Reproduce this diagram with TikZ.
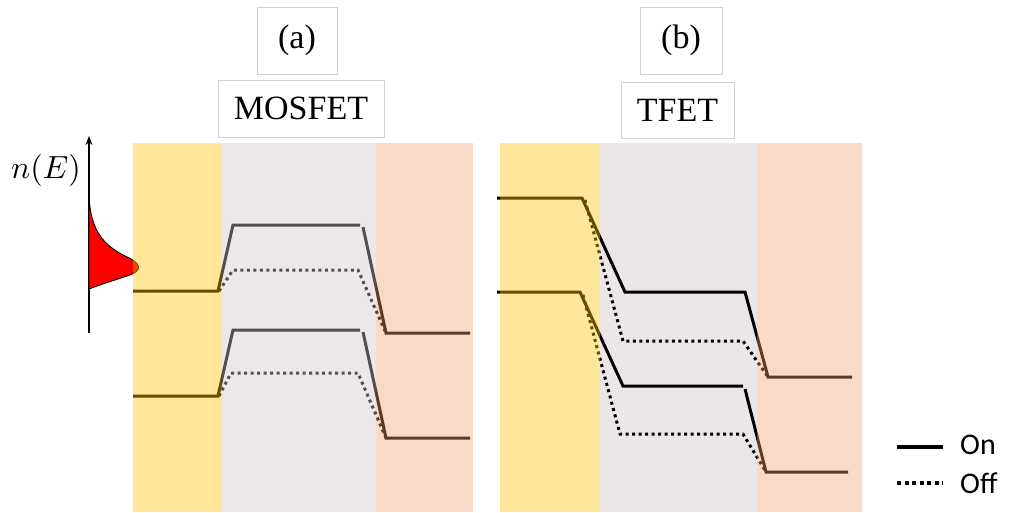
\documentclass[tikz,border=0pt]{standalone}
\usepackage{fontspec}
\setmainfont{Liberation Serif}
\newfontfamily\legendfont{Carlito}
\usetikzlibrary{arrows.meta}
\definecolor{yelC}{RGB}{255,192,0}
\definecolor{midC}{RGB}{212,195,195}
\definecolor{oraC}{RGB}{237,158,105}
\definecolor{midSolid}{RGB}{237,230,230}
\definecolor{boxgray}{RGB}{210,210,210}
\tikzset{
  onln/.style={line width=3pt, line join=miter},
  offln/.style={line width=3pt, dash pattern=on 3pt off 3.5pt},
  yelov/.style={fill=yelC, fill opacity=0.4},
  midov/.style={fill=midC, fill opacity=0.4},
  oraov/.style={fill=oraC, fill opacity=0.38},
  lbl/.style={draw=boxgray, line width=0.8pt, inner sep=0pt, font=\fontsize{34}{40}\selectfont},
  legtext/.style={anchor=west, inner sep=0pt, font=\legendfont\fontsize{30}{34}\selectfont}
}
\begin{document}
\begin{tikzpicture}[x=1pt,y=-1pt]
\useasboundingbox (0,0) rectangle (1009,512);

% ---- labels
\node[lbl, minimum width=80pt, minimum height=67pt] (la) at (297,40.5) {(a)};
\node[lbl, minimum width=166pt, minimum height=57pt] (lmos) at (301,108.5) {MOSFET};
\node[lbl, minimum width=82pt, minimum height=67pt] (lb) at (681,40.5) {(b)};
\node[lbl, minimum width=113pt, minimum height=56pt] (ltfet) at (677.5,110) {TFET};

% ---- n(E) axis and distribution
\node[inner sep=0pt] (nE) at (46,170) {\scalebox{3.2}{$n(E)$}};
\coordinate (axb) at (89,333);
\coordinate (axt) at (89,136);
\draw[line width=1.2pt, -{Stealth[length=9pt,width=7pt]}] (axb) -- (axt);
\draw[fill=red, line width=0.9pt] (89,197) .. controls (91,232) and (104,245) .. (125,256)
   .. controls (141,263) and (143,270) .. (130,275)
   .. controls (112,281) and (99,285) .. (89,289) -- cycle;

% ---- MOSFET bands (under overlays)
\draw[onln] (133,291) -- (218,291) -- (233,225) -- (360,225);
\draw[onln] (363,227) -- (386,333) -- (470,333);
\draw[offln] (219,291) -- (233,270) -- (358,270) -- (386,333);
\draw[onln] (133,396) -- (218,396) -- (233,330) -- (360,330);
\draw[onln] (363,332) -- (386,438) -- (470,438);
\draw[offln] (219,396) -- (231,373) -- (358,373) -- (386,438);

% ---- MOSFET regions
\fill[yelov] (133,143) rectangle (222,512);
\fill[midov] (222,143) rectangle (376,512);
\fill[oraov] (376,143) rectangle (473,512);

% ---- TFET middle region (under lines)
\fill[midSolid] (600,143) rectangle (757,512);

% ---- TFET bands
\draw[onln] (497,198) -- (582,198) -- (625,292) -- (745,292) -- (768,377) -- (852,377);
\draw[offln] (585,200) -- (623,341) -- (743,341) -- (768,377);
\draw[onln] (497,292) -- (580,292) -- (623,386) -- (743,386);
\draw[onln] (745,389) -- (766,472) -- (848,472);
\draw[offln] (583,295) -- (620,434) -- (743,434) -- (766,472);

% ---- TFET side regions
\fill[yelov] (500,143) rectangle (600,512);
\fill[oraov] (757,143) rectangle (862,512);

% ---- legend
\coordinate (onA) at (897,447);
\coordinate (onB) at (943,447);
\coordinate (offA) at (897,483);
\coordinate (offB) at (943,483);
\draw[line width=4pt] (onA) -- (onB);
\draw[line width=4pt, dash pattern=on 4pt off 3.5pt] (offA) -- (offB);
\node[legtext] (lon) at (960,445) {On};
\node[legtext] (loff) at (960,483) {Off};
\end{tikzpicture}
\end{document}
